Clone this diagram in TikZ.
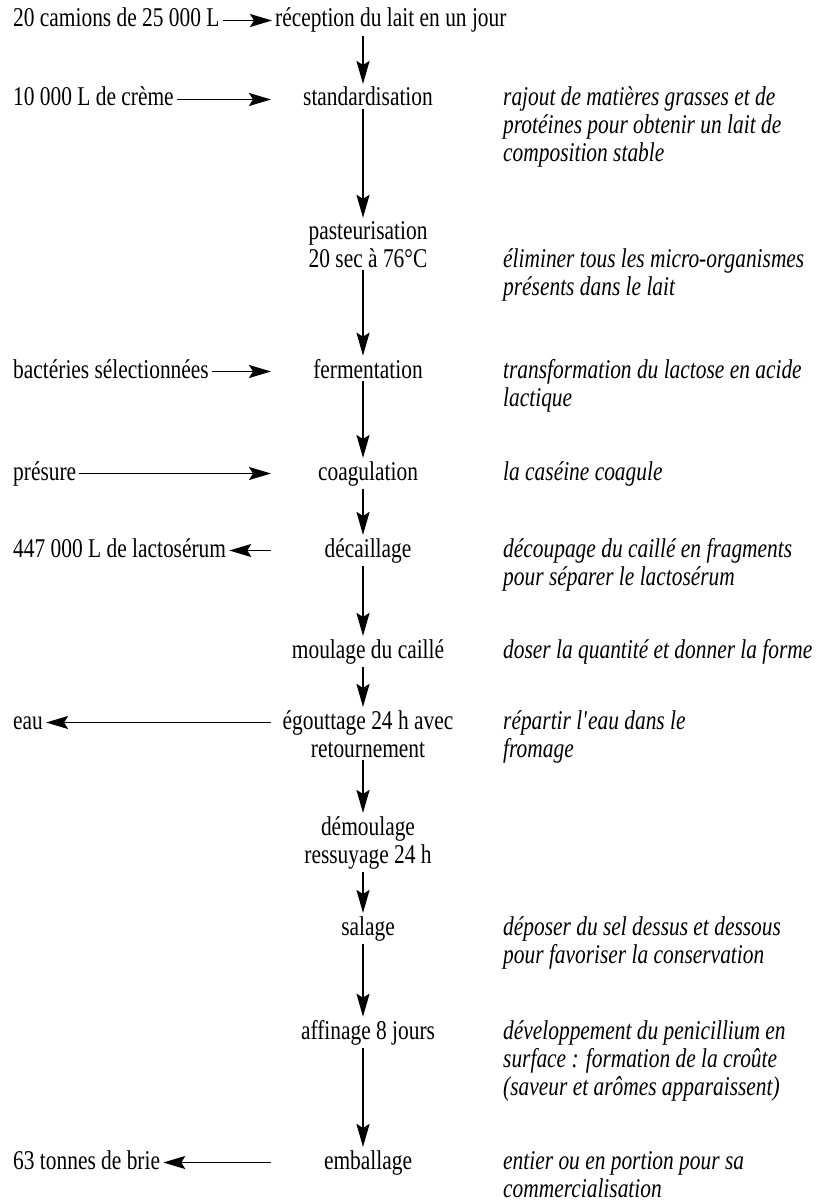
\documentclass[tikz,border=0pt]{standalone}
\usepackage{fontspec}
\setmainfont{Liberation Serif}[FakeStretch=0.79]
\usetikzlibrary{arrows.meta,positioning}

\tikzset{
  stage/.style={anchor=base, align=center, inner sep=3pt},
  feed/.style={anchor=base west, inner sep=3pt, text height=16pt, text depth=3pt},
  note/.style={anchor=base west, align=left, inner sep=3pt, font=\itshape},
  flow/.style={-{Stealth[length=23pt,width=13pt,inset=4pt]}, line width=2pt},
  side/.style={-{Stealth[length=22pt,width=13pt,inset=4pt]}, line width=1.4pt},
}

\begin{document}
\begin{tikzpicture}[x=1pt,y=-1pt]
      \fontsize{27.1}{28}\selectfont
      \useasboundingbox (0,0) rectangle (824,1201);
      \coordinate (axis) at (363,0);
      \coordinate (gate) at (271,0);
      % left column: inputs and outputs
      \node[feed] (camions) at (10,27) {20 camions de 25 000 L};
      \node[feed] (creme) at (10,106) {10 000 L de crème};
      \node[feed] (bacteries) at (10,378) {bactéries sélectionnées};
      \node[feed] (presure) at (10,480) {présure};
      \node[feed] (lacto) at (10,557) {447 000 L de lactosérum};
      \node[feed] (eau) at (10,729) {eau};
      \node[feed] (brie) at (10,1169) {63 tonnes de brie};
      % middle column: the steps (multi-line ones sit on their last line)
      \node[stage, anchor=base west] (reception) at (272,27) {réception du lait en un jour};
      \node[stage] (standard) at (368,106) {standardisation};
      \node[stage] (pasteur) at (368,267) {pasteurisation\\20 sec à 76°C};
      \node[stage] (ferment) at (368,378) {fermentation};
      \node[stage] (coag) at (368,480) {coagulation};
      \node[stage] (decaill) at (368,557) {décaillage};
      \node[stage] (moulage) at (368,658) {moulage du caillé};
      \node[stage] (egout) at (368,757) {égouttage 24 h avec\\retournement};
      \node[stage] (demoul) at (368,863) {démoulage\\ressuyage 24 h};
      \node[stage] (salage) at (368,935) {salage};
      \node[stage] (affinage) at (368,1039) {affinage 8 jours};
      \node[stage] (emball) at (368,1169) {emballage};
      % right column: comments
      \node[note] (n-standard) at (500,162) {rajout de matières grasses et de\\protéines pour obtenir un lait de\\composition stable};
      \node[note] (n-pasteur) at (500,295) {éliminer tous les micro-organismes\\présents dans le lait};
      \node[note] (n-ferment) at (500,406) {transformation du lactose en acide\\lactique};
      \node[note] (n-coag) at (500,480) {la caséine coagule};
      \node[note] (n-decaill) at (500,585) {découpage du caillé en fragments\\pour séparer le lactosérum};
      \node[note] (n-moulage) at (500,658) {doser la quantité et donner la forme};
      \node[note] (n-egout) at (500,757) {répartir l\textquotesingle eau dans le\\fromage};
      \node[note] (n-salage) at (500,963) {déposer du sel dessus et dessous\\pour favoriser la conservation};
      \node[note] (n-affinage) at (500,1095) {développement du penicillium en\\surface : formation de la croûte\\(saveur et arômes apparaissent)};
      \node[note] (n-emball) at (500,1197) {entier ou en portion pour sa\\commercialisation};
      % side arrows
      \path[side] (camions) edge (camions -| reception.west);
      \path[side] (creme) edge (creme -| gate)
        (bacteries) edge (bacteries -| gate)
        (presure) edge (presure -| gate);
      \path[side] (lacto -| gate) edge (lacto)
        (eau -| gate) edge (eau)
        (brie -| gate) edge (brie);
      % main flow
      \path[flow] (reception.south -| axis) edge (standard.north -| axis)
        (standard.south -| axis) edge (pasteur.north -| axis)
        (pasteur.south -| axis) edge (ferment.north -| axis)
        (ferment.south -| axis) edge (coag.north -| axis)
        (coag.south -| axis) edge (decaill.north -| axis)
        (decaill.south -| axis) edge (moulage.north -| axis)
        (moulage.south -| axis) edge (egout.north -| axis)
        (egout.south -| axis) edge (demoul.north -| axis)
        (demoul.south -| axis) edge (salage.north -| axis)
        (salage.south -| axis) edge (affinage.north -| axis)
        (affinage.south -| axis) edge (emball.north -| axis);
    \end{tikzpicture}
\end{document}
